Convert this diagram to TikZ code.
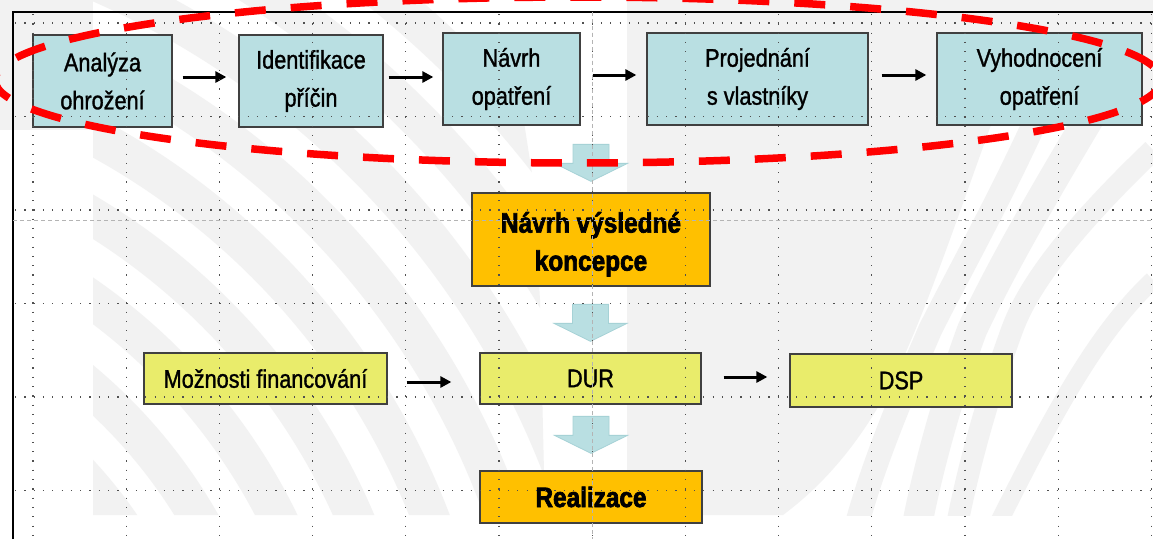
\documentclass[tikz,border=0pt]{standalone}
\usepackage{fontspec}
\setmainfont{Liberation Sans}[FakeStretch=0.85]
\newfontfamily\regfam{Liberation Sans}[FakeStretch=0.85,FakeBold=1.2]
\newfontfamily\boldfam{Liberation Sans Bold}[FakeStretch=0.87,FakeBold=2.5]
\usetikzlibrary{arrows.meta,calc}
\definecolor{boxblue}{HTML}{B9DFE2}
\definecolor{barrowedge}{HTML}{A6D2D6}
\definecolor{boxorange}{HTML}{FFC000}
\definecolor{boxyellow}{HTML}{E9EC6B}
\definecolor{wm}{HTML}{F2F2F2}
\definecolor{edge}{HTML}{404040}
\definecolor{gridc}{HTML}{505050}
\definecolor{guide}{HTML}{B4B4B4}
\definecolor{ringred}{HTML}{FF0000}
\tikzset{
  pics/downarrow/.style={code={
    \fill[fill=boxblue,draw=barrowedge,line width=0.8pt]
      (0,0) -- (-36.5,-18) -- (-18,-18) -- (-18,-37) -- (18,-37) -- (18,-18) -- (36.5,-18) -- cycle;}}
}
\begin{document}
\begin{tikzpicture}[x=1pt,y=-1pt,
  txt/.style={font=\regfam\fontsize{25.5}{38}\selectfont},
  btxt/.style={font=\boldfam\fontsize{28}{38}\selectfont},
  box/.style={draw=edge,line width=1.3pt,inner sep=0pt,align=center,text=black},
  bluebox/.style={box,txt,fill=boxblue,minimum height=92pt},
  yellowbox/.style={box,txt,fill=boxyellow},
  orangebox/.style={box,btxt,fill=boxorange},
  arr/.style={-{Triangle[length=11pt,width=11pt]},line width=3pt,black},
  gridline/.style={draw=gridc,line width=1.2pt,dash pattern=on 1.2pt off 8.1pt},
  guideline/.style={draw=guide,line width=1pt,dash pattern=on 4pt off 3pt},
  ring/.style={draw=ringred,line width=7.5pt,dash pattern=on 31pt off 25pt},
  wmband/.style={draw=wm,line cap=butt},
]
\useasboundingbox (0,0) rectangle (1153,539);
\fill[white] (0,0) rectangle (1153,539);

% ---- watermark ----
\begin{scope}
  \clip (93,0) -- (505,0) -- (533,180) -- (540,300) -- (545,515) -- (93,515) -- cycle;
  \foreach \r in {451,520,590,660,730,800,870,940,1010}
    \draw[wmband,line width=38pt] (-251,780) ++(-90:\r) arc[start angle=-90,end angle=0,radius=\r];
\end{scope}
\fill[wm] (0,0) rectangle (93,130);
\begin{scope}
  \clip (0,0) rectangle (1153,515);
  \fill[wm] (627,0) -- (1153,0) -- (1153,100) -- (1000,100)
     .. controls (960,210) and (930,300) .. (900,365)
     .. controls (870,430) and (830,480) .. (783,515) -- (627,515) -- cycle;
  \draw[wmband,line width=24pt] (1045,100) .. controls (1000,200) and (960,270) .. (930,330)
     .. controls (900,400) and (875,460) .. (858,520);
  \draw[wmband,line width=30pt] (1100,100) .. controls (1040,200) and (1000,270) .. (972,330)
     .. controls (950,390) and (930,460) .. (918,520);
  \draw[wmband,line width=22pt] (1153,150) .. controls (1080,220) and (1030,280) .. (1012,330)
     .. controls (990,390) and (970,460) .. (958,520);
  \draw[wmband,line width=18pt] (1153,280) .. controls (1100,330) and (1060,400) .. (1000,520);
\end{scope}

% ---- frame ----
\draw[black,line width=2pt] (13,539) -- (13,12) -- (1153,12);

% ---- boxes ----
\node[bluebox,minimum width=139pt] (a1) at (102.5,81) {Analýza\\ohrožení};
\node[bluebox,minimum width=144pt] (a2) at (311,81) {Identifikace\\příčin};
\node[bluebox,minimum width=137pt] (a3) at (511.5,79) {Návrh\\opatření};
\node[bluebox,minimum width=221pt] (a4) at (757.5,79) {Projednání\\s vlastníky};
\node[bluebox,minimum width=205pt] (a5) at (1039.5,79) {Vyhodnocení\\opatření};
\node[orangebox,minimum width=238pt,minimum height=93pt] (k) at (591,239.5)
  {\raisebox{-4.5pt}[\height][\depth]{\begin{tabular}{@{}c@{}}Návrh výsledné\\koncepce\end{tabular}}};
\node[yellowbox,minimum width=243pt,minimum height=51pt] (m) at (265.5,378.5) {Možnosti financování};
\node[yellowbox,minimum width=221pt,minimum height=51pt] (d) at (590.5,378.5) {DUR};
\node[yellowbox,minimum width=222pt,minimum height=53pt] (s) at (901,380.5) {DSP};
\node[orangebox,minimum width=222pt,minimum height=52pt] (r) at (591,497) {Realizace};

% ---- connectors ----
\draw[arr,shorten <=10pt,shorten >=12pt] ([yshift=4pt]a1.east) -- ([yshift=4pt]a2.west);
\draw[arr,shorten <=5pt,shorten >=9pt] ([yshift=4pt]a2.east) -- ([yshift=2pt]a3.west);
\draw[arr,shorten <=12pt,shorten >=10pt] ([yshift=4pt]a3.east) -- ([yshift=4pt]a4.west);
\draw[arr,shorten <=13pt,shorten >=10pt] ([yshift=4pt]a4.east) -- ([yshift=4pt]a5.west);
\draw[arr,shorten <=19pt,shorten >=28pt] ([yshift=-3.5pt]m.east) -- ([yshift=-3.5pt]d.west);
\draw[arr,shorten <=22pt,shorten >=22pt] ([yshift=1.5pt]d.east) -- ([yshift=3.5pt]s.west);

\pic at ([yshift=11pt]k.north) {downarrow};
\pic at ([yshift=11pt]d.north) {downarrow};
\pic at ([yshift=17pt]r.north) {downarrow};

% ---- grid ----
\foreach \i in {0,...,12}
  \draw[gridline] ({33+93.2*\i},14) -- ({33+93.2*\i},539);
\foreach \j in {0,...,5}
  \draw[gridline] (15,{23+93.5*\j}) -- (1153,{23+93.5*\j});
\draw[guideline] (592,12) -- (592,539);
\draw[guideline] (13,220) -- (1153,220);

% ---- highlight ring ----
\draw[ring] (578,80) ellipse[x radius=583,y radius=83];
\end{tikzpicture}
\end{document}
